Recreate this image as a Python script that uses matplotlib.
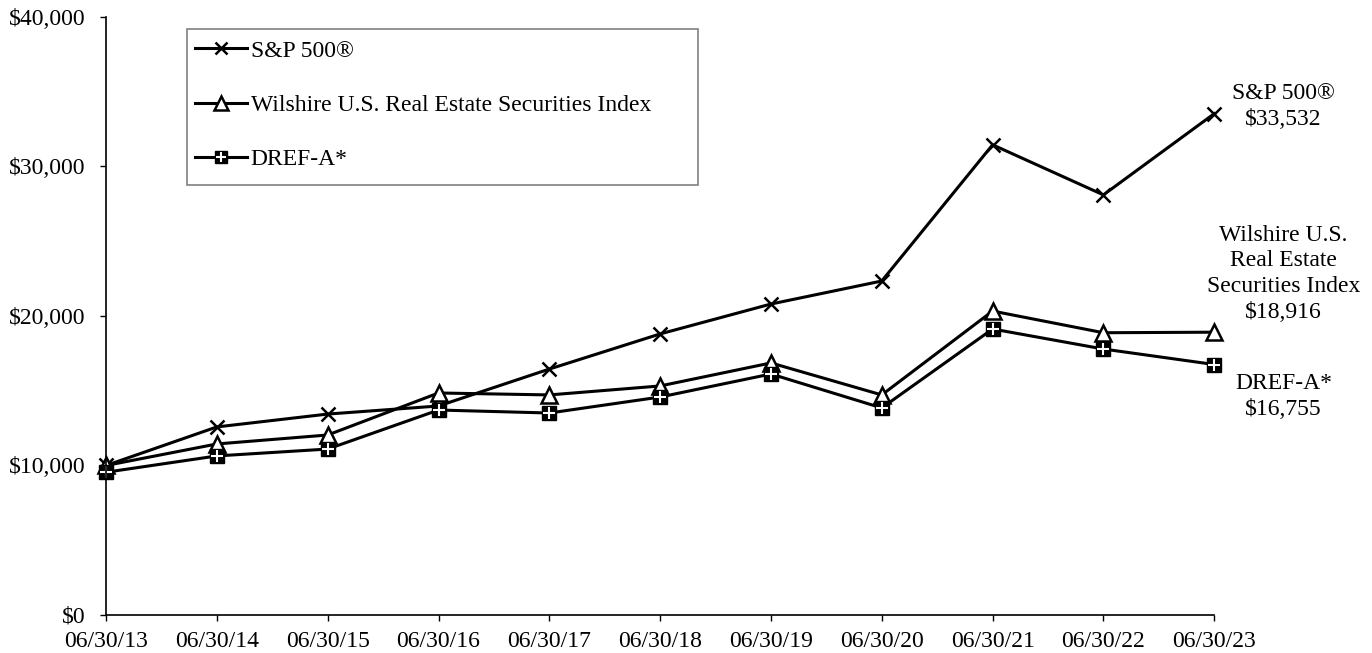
import matplotlib.pyplot as plt
from matplotlib.ticker import FuncFormatter
from matplotlib.legend_handler import HandlerTuple
from matplotlib.patches import Rectangle

plt.rcParams['font.family'] = ['Liberation Serif', 'DejaVu Serif']

dates = ["06/30/13", "06/30/14", "06/30/15", "06/30/16", "06/30/17", "06/30/18",
         "06/30/19", "06/30/20", "06/30/21", "06/30/22", "06/30/23"]
sp500 = [10000, 12580, 13440, 13980, 16450, 18800, 20800, 22340, 31450, 28100, 33532]
wilshire = [10000, 11440, 12040, 14850, 14720, 15320, 16860, 14720, 20330, 18880, 18916]
dref = [9550, 10640, 11100, 13710, 13510, 14580, 16120, 13850, 19130, 17790, 16755]

series_names = ["S&P 500®", "Wilshire U.S. Real Estate Securities Index", "DREF-A*"]
end_labels = ["S&P 500®\n$33,532",
              "Wilshire U.S.\nReal Estate\nSecurities Index\n$18,916",
              "DREF-A*\n$16,755"]

fig = plt.figure(figsize=(13.72, 6.53), dpi=100)
ax = fig.add_axes([0.0773, 0.0582, 0.8077, 0.9158])

x = list(range(len(dates)))
lw = 2.2

h1, = ax.plot(x, sp500, color='black', lw=lw, marker='x', ms=10, mew=1.8, clip_on=False)
h2, = ax.plot(x, wilshire, color='black', lw=lw, marker='^', ms=11, mfc='white',
              mec='black', mew=1.8, clip_on=False)
h3, = ax.plot(x, dref, color='black', lw=lw, marker='s', ms=9.5, mfc='black',
              mec='black', clip_on=False)
h3b, = ax.plot(x, dref, ls='none', marker='+', ms=8, mew=1.5, color='white', clip_on=False)

ax.set_xlim(0, len(dates) - 1)
ax.set_ylim(0, 40000)
ax.set_xticks(x)
ax.set_xticklabels(dates)
ax.set_yticks([0, 10000, 20000, 30000, 40000])
ax.yaxis.set_major_formatter(FuncFormatter(lambda v, p: "${:,.0f}".format(v)))
ax.tick_params(labelsize=17, length=4.5, width=1, direction='out')
ax.tick_params(axis='y', pad=10)
ax.tick_params(axis='x', pad=7)
for s in ['top', 'right']:
    ax.spines[s].set_visible(False)
for s in ['left', 'bottom']:
    ax.spines[s].set_linewidth(1.2)

# legend box drawn separately (wider than the entries)
ax.add_patch(Rectangle((0.0731, 0.719), 0.4612, 0.261, transform=ax.transAxes,
                       fill=False, edgecolor='#808080', lw=1.2, clip_on=False, zorder=5))
leg = ax.legend([h1, h2, (h3, h3b)], series_names,
                handler_map={tuple: HandlerTuple(ndivide=1)},
                loc='center left', bbox_to_anchor=(0.0803, 0.8528), fontsize=17,
                frameon=False, borderpad=0, labelspacing=1.38, handlelength=2.2,
                handletextpad=0.15, borderaxespad=0, markerscale=0.9)

ax.annotate(end_labels[0], xy=(x[-1], sp500[-1]), xytext=(50, 5), textcoords='offset points',
            ha='center', va='center', fontsize=17, annotation_clip=False, linespacing=1.3)
ax.annotate(end_labels[1], xy=(x[-1], wilshire[-1]), xytext=(50, 42), textcoords='offset points',
            ha='center', va='center', fontsize=17, annotation_clip=False, linespacing=1.3)
ax.annotate(end_labels[2], xy=(x[-1], dref[-1]), xytext=(50, -23), textcoords='offset points',
            ha='center', va='center', fontsize=17, annotation_clip=False, linespacing=1.3)

fig.savefig("out.png", dpi=100)
